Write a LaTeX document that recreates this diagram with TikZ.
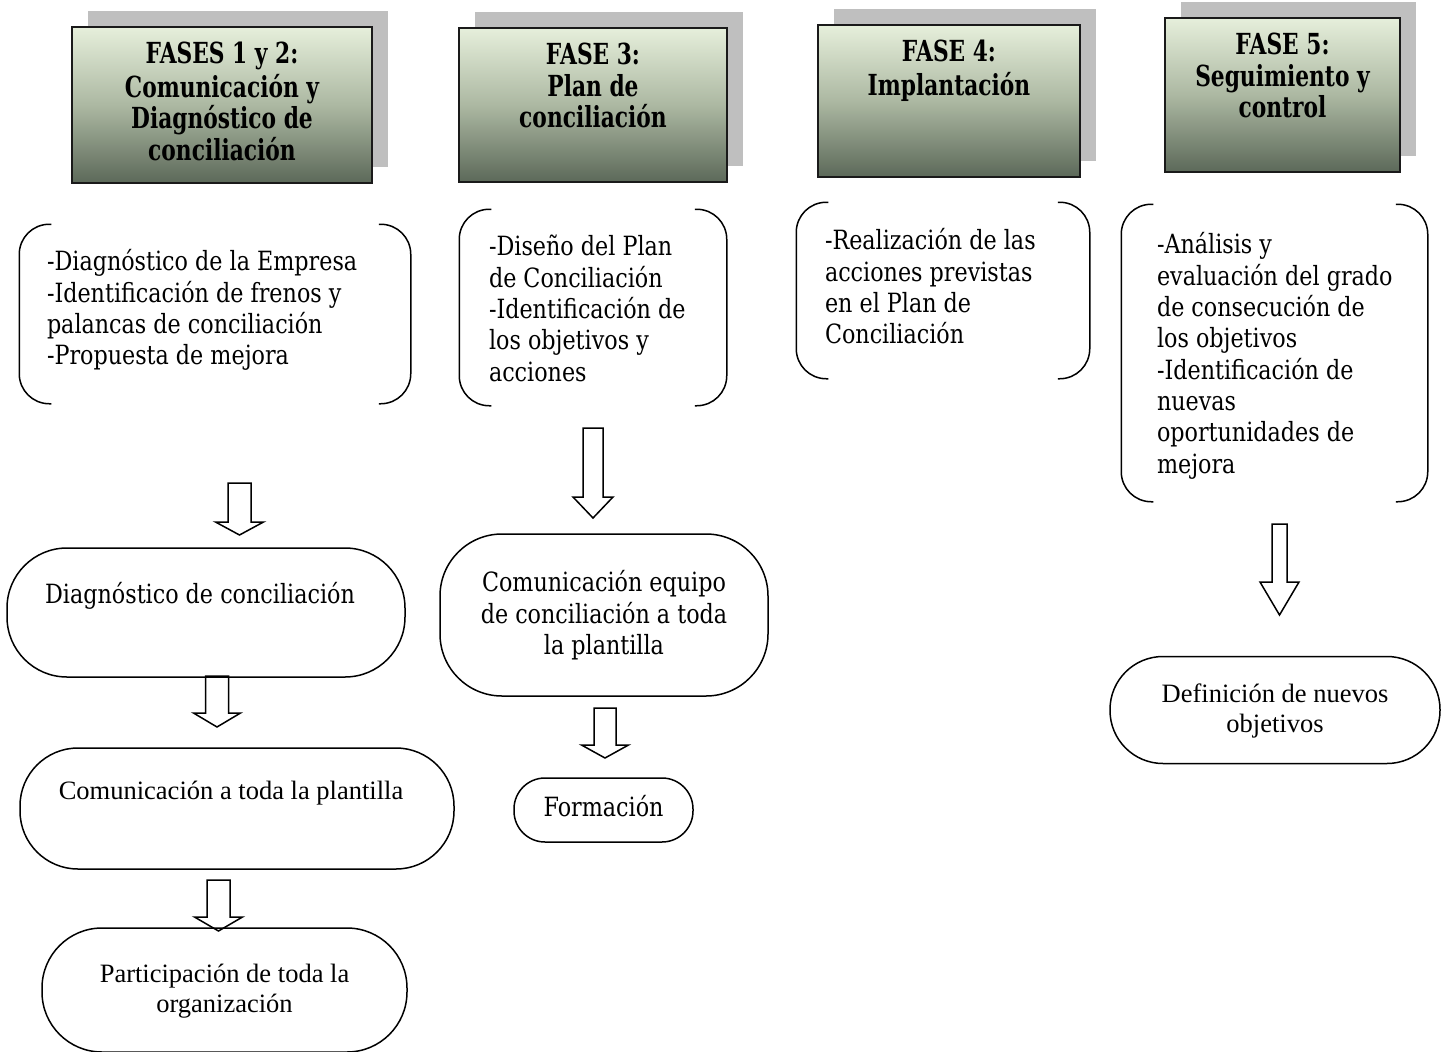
\documentclass[tikz,border=0pt]{standalone}
\usepackage{fontspec}
\setmainfont{Liberation Serif}
\newfontfamily\cambria[FakeStretch=0.84]{DejaVu Serif}
\newfontfamily\cambriatit[FakeStretch=0.75]{DejaVu Serif}
\usetikzlibrary{positioning,shadows}

\definecolor{fasetop}{RGB}{230,239,219}
\definecolor{fasemid}{RGB}{172,184,162}
\definecolor{fasebot}{RGB}{92,105,89}
\definecolor{sombra}{RGB}{191,191,191}
\definecolor{borde}{RGB}{26,26,26}

% brackets on both sides of a node
\newcommand{\corchetes}[1]{%
  \draw[rounded corners=30pt] ([xshift=32pt]#1.north west) -- (#1.north west)
    -- (#1.south west) -- ([xshift=32pt]#1.south west);
  \draw[rounded corners=30pt] ([xshift=-32pt]#1.north east) -- (#1.north east)
    -- (#1.south east) -- ([xshift=-32pt]#1.south east);}
% hollow block arrow: x, top, head base, tip, shaft half width, head half width
\newcommand{\flecha}[6]{%
  \draw (#1-#5,#2) -- (#1+#5,#2) -- (#1+#5,#3) -- (#1+#6,#3) -- (#1,#4)
    -- (#1-#6,#3) -- (#1-#5,#3) -- cycle;}

\begin{document}
\begin{tikzpicture}[
    x=1pt, y=-1pt,
    line width=1.5pt,
    fase/.style={draw=borde, line width=2pt, inner sep=0pt,
      top color=fasetop, bottom color=fasebot, middle color=fasemid,
      drop shadow={shadow xshift=16pt, shadow yshift=16pt, fill=sombra, opacity=1}},
    titulo/.style={inner sep=0pt, align=center,
      font=\cambriatit\bfseries\fontsize{29}{31.5}\selectfont},
    lista/.style={inner sep=0pt},
    texto/.style={inner sep=0pt, align=left,
      font=\cambria\fontsize{26.5}{31.3}\selectfont},
    bola/.style={draw, inner sep=0pt, align=center, rounded corners=#1},
    cam/.style={font=\cambria\fontsize{26.5}{31.5}\selectfont},
    tnr/.style={font=\fontsize{26.5}{30}\selectfont}
  ]
  \useasboundingbox (0,0) rectangle (1446,1052);

  % phase headers
  \node[fase, minimum width=300pt, minimum height=156pt] (fase1) at (222,105) {};
  \node[fase, minimum width=268pt, minimum height=154pt] (fase3) at (593,105) {};
  \node[fase, minimum width=262pt, minimum height=152pt] (fase4) at (949,101) {};
  \node[fase, minimum width=235pt, minimum height=154pt] (fase5) at (1282.5,95) {};
  \node[titulo, below=15pt of fase1.north] (tit1)
    {\strut FASES 1 y 2:\\Comunicación y\\Diagnóstico de\\conciliación};
  \node[titulo, below=15pt of fase3.north] (tit3)
    {\strut FASE 3:\\Plan de\\conciliación};
  \node[titulo, below=15pt of fase4.north] (tit4)
    {\strut FASE 4:\\Implantación};
  \node[titulo, below=15pt of fase5.north] (tit5)
    {\strut FASE 5:\\Seguimiento y\\control};

  % bracketed lists
  \node[lista, minimum width=390pt, minimum height=178pt] (lista1) at (215,314) {};
  \node[lista, minimum width=266pt, minimum height=195pt] (lista3) at (593,307.5) {};
  \node[lista, minimum width=292pt, minimum height=175pt] (lista4) at (943,290.5) {};
  \node[lista, minimum width=305pt, minimum height=296pt] (lista5) at (1274.5,353) {};
  \corchetes{lista1}
  \corchetes{lista3}
  \corchetes{lista4}
  \corchetes{lista5}
  \node[texto, below right=24pt and 27pt of lista1.north west] (txt1)
    {\strut -Diagnóstico de la Empresa\\-Identificación de frenos y\\palancas de conciliación\\-Propuesta de mejora};
  \node[texto, below right=24pt and 29pt of lista3.north west] (txt3)
    {\strut -Diseño del Plan\\de Conciliación\\-Identificación de\\los objetivos y\\acciones};
  \node[texto, below right=25pt and 28pt of lista4.north west] (txt4)
    {\strut -Realización de las\\acciones previstas\\en el Plan de\\Conciliación};
  \node[texto, below right=27pt and 35pt of lista5.north west] (txt5)
    {\strut -Análisis y\\evaluación del grado\\de consecución de\\los objetivos\\-Identificación de\\nuevas\\oportunidades de\\mejora};

  % rounded steps
  \node[bola=60pt, cam, minimum width=398pt, minimum height=129pt] (diag) at (206,612.5)
    {\strut Diagnóstico de conciliación\hspace*{12pt}\\\strut};
  \node[bola=58pt, tnr, minimum width=434pt, minimum height=121pt] (comun) at (237,808.5)
    {\strut Comunicación a toda la plantilla\hspace*{12pt}\\\strut};
  \node[bola=60pt, tnr, minimum width=365pt, minimum height=124pt] (partic) at (224.5,990)
    {\strut Participación de toda la\\organización};
  \node[bola=62pt, cam, minimum width=328pt, minimum height=162pt] (comeq) at (604,615)
    {\strut Comunicación equipo\\de conciliación a toda\\la plantilla};
  \node[bola=31pt, cam, minimum width=179pt, minimum height=64pt] (form) at (603.5,810)
    {\raisebox{-3pt}{\strut Formación}};
  \node[bola=53pt, tnr, minimum width=330pt, minimum height=107pt] (defin) at (1275,710)
    {\strut Definición de nuevos\\objetivos};

  % block arrows
  \flecha{239.5}{483}{522}{535}{11.5}{24}
  \flecha{593}{428}{497}{518}{10}{20}
  \flecha{217}{676}{713}{727}{11.5}{23.5}
  \flecha{218.5}{880}{917}{931}{11.5}{24}
  \flecha{605}{708}{745}{758}{11}{23.5}
  \flecha{1279.5}{524}{582}{615}{7.5}{19.5}
\end{tikzpicture}
\end{document}
